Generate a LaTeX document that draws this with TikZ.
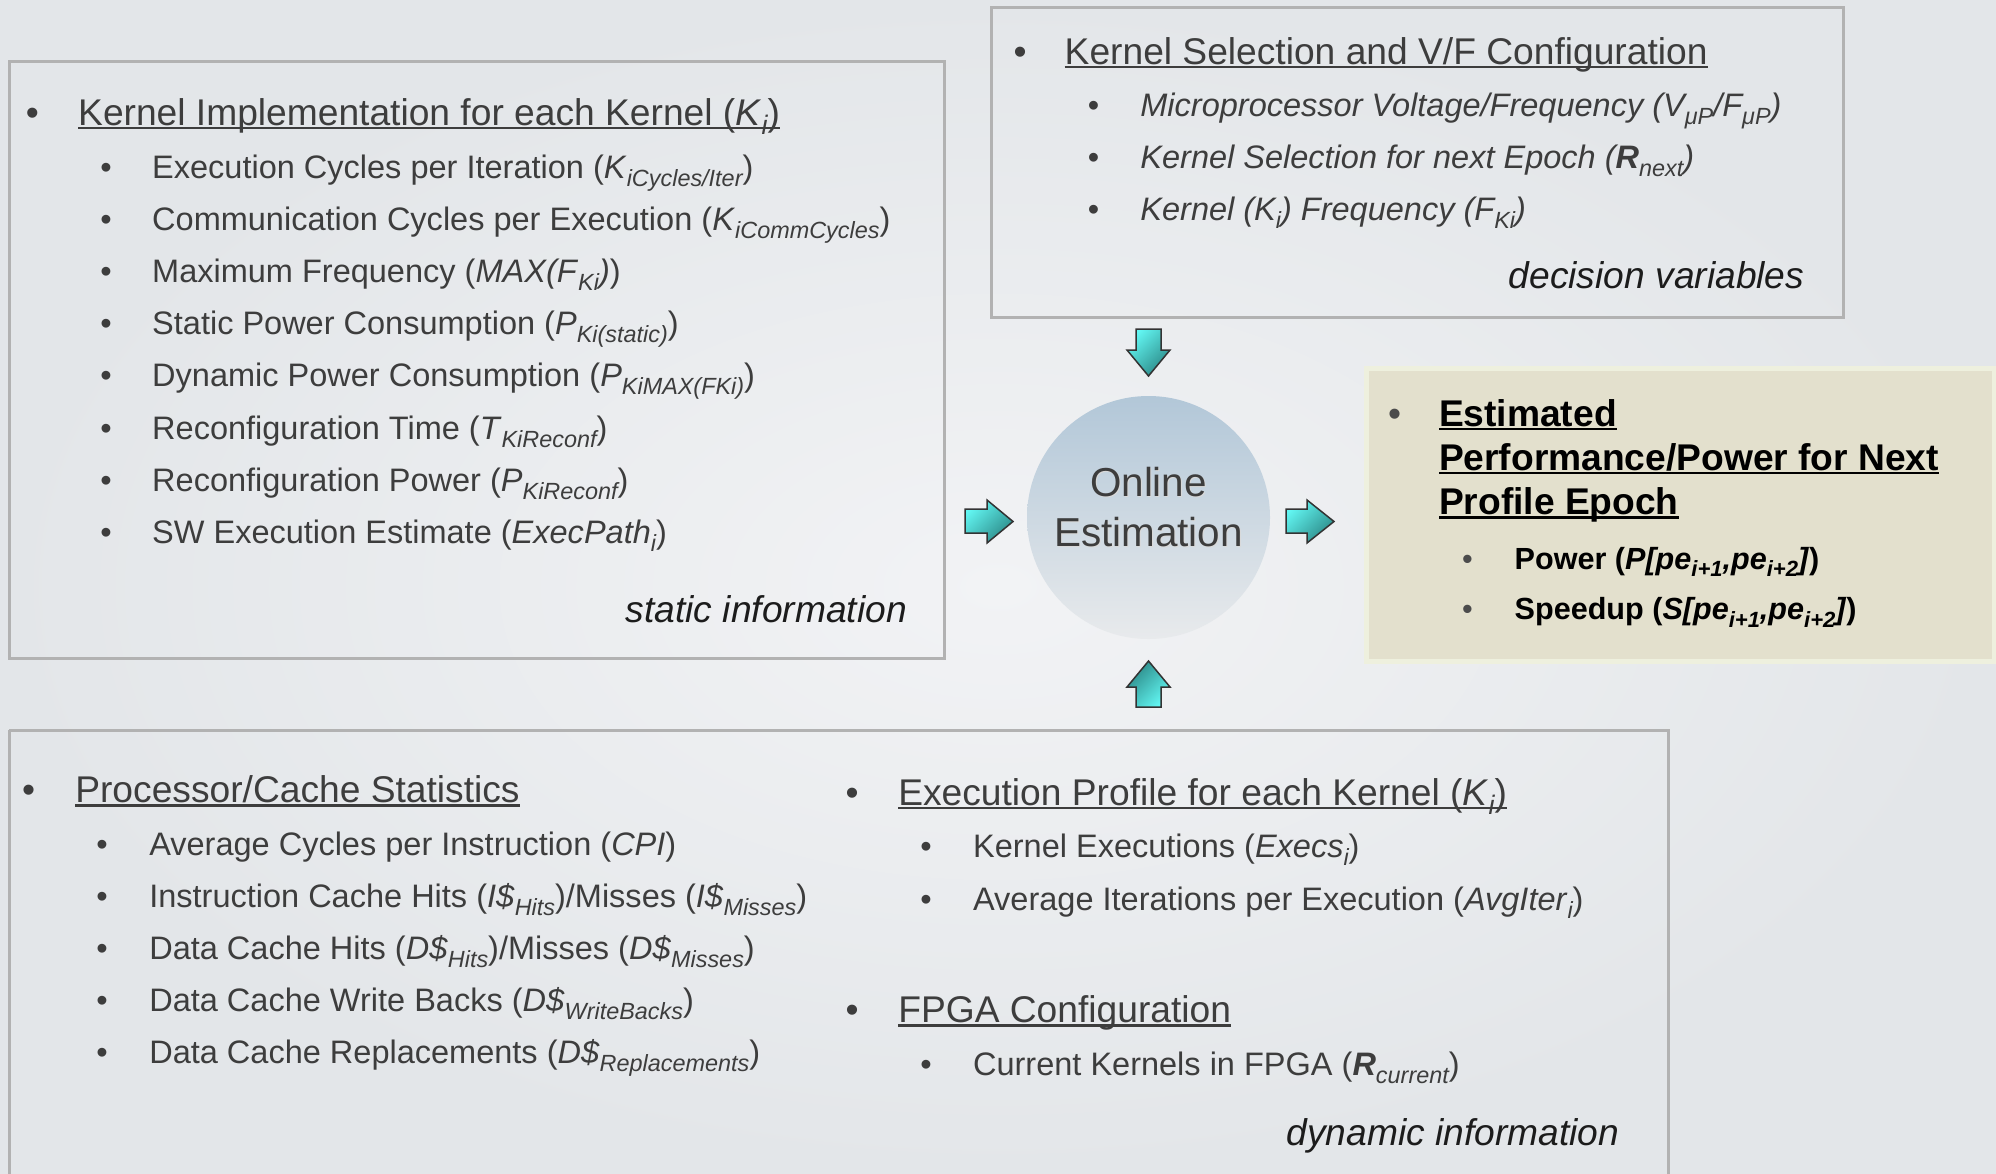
\documentclass[tikz,border=0pt]{standalone}
\usepackage{fontspec}
\setmainfont{Liberation Sans}

\definecolor{bgin}{HTML}{F2F3F5}
\definecolor{bgout}{HTML}{E3E6E9}
\definecolor{frameline}{HTML}{B2B2B2}
\definecolor{txtgray}{HTML}{3D3D3D}
\definecolor{tagblack}{HTML}{1C1C1C}
\definecolor{estfill}{HTML}{E3E0CD}
\definecolor{estglow}{HTML}{EEF0DE}
\definecolor{arrlight}{HTML}{62F7F3}
\definecolor{arrdark}{HTML}{2B8886}
\definecolor{arredge}{HTML}{333333}
\definecolor{circtop}{HTML}{B2C7D8}
\definecolor{circbot}{HTML}{E8EAEC}

% font sizes (1 unit = 0.1 mm)
\newcommand\hdrsize{\fontsize{10.58pt}{12.5pt}\selectfont}
\newcommand\itmsize{\fontsize{9.25pt}{11pt}\selectfont}
\newcommand\estsize{\fontsize{8.7pt}{10.5pt}\selectfont}
\newcommand\circsize{\fontsize{11.5pt}{14pt}\selectfont}

% italic subscript (dropped, about 72% size) and a flat underline that crosses descenders
\makeatletter
\newcommand\sbs[1]{\raisebox{-0.25em}{\fontsize{\fpeval{0.72*\f@size}}{\fpeval{0.8*\f@size}}\selectfont\itshape #1}}
\makeatother
\newsavebox\ulbox
\newcommand\ulin[1]{\sbox\ulbox{#1}\rlap{\rule[-0.11em]{\wd\ulbox}{0.065em}}\usebox\ulbox}

\tikzset{
  frame/.style={draw=frameline, line width=0.3mm},
  hdr/.style={anchor=base west, inner sep=0pt, text=txtgray, font=\hdrsize},
  itm/.style={anchor=base west, inner sep=0pt, text=txtgray, font=\itmsize},
  hbul/.style={anchor=base, inner sep=0pt, text=txtgray, font=\hdrsize},
  ibul/.style={anchor=base, inner sep=0pt, text=txtgray, font=\itmsize},
  tag/.style={anchor=base east, inner sep=0pt, text=tagblack, font=\hdrsize\itshape},
  esthdr/.style={anchor=base west, inner sep=0pt, text=black, font=\hdrsize\bfseries},
  estitm/.style={anchor=base west, inner sep=0pt, text=black, font=\estsize\bfseries},
  blockarrow/.style={draw=arredge, line width=0.15mm, top color=arrlight, bottom color=arrdark},
}

\begin{document}
\begin{tikzpicture}[x=0.1mm, y=-0.1mm]
\useasboundingbox (0,0) rectangle (1996,1173);

% background
\shade[inner color=bgin, outer color=bgout] (0,0) rectangle (1996,1173);

% frames
\draw[frame] (9,61) rectangle (944,658);
\draw[frame] (991,7) rectangle (1843,317);
\draw[frame] (9,730) -- (1668,730) -- (1668,1180);
\draw[frame] (9,730) -- (9,1180);

% estimation result panel
\fill[estglow] (1364,366) rectangle (1996,664);
\fill[estfill] (1369,371) rectangle (1992,659);

% ---- static information panel ----
\node[hbul] (sb0) at (32.5,125) {•};
\node[hdr] (sh0) at (77.5,125) {\ulin{Kernel Implementation for each Kernel (\textit{K}\sbs{i})}};
\node[ibul] (sb1) at (106,178) {•};
\node[itm] (si1) at (151.5,178) {Execution Cycles per Iteration (\textit{K}\sbs{iCycles/Iter})};
\node[ibul] (sb2) at (106,230.2) {•};
\node[itm] (si2) at (151.5,230.2) {Communication Cycles per Execution (\textit{K}\sbs{iCommCycles})};
\node[ibul] (sb3) at (106,282.4) {•};
\node[itm] (si3) at (151.5,282.4) {Maximum Frequency (\textit{MAX(F}\sbs{Ki}\textit{)})};
\node[ibul] (sb4) at (106,334.6) {•};
\node[itm] (si4) at (151.5,334.6) {Static Power Consumption (\textit{P}\sbs{Ki(static)})};
\node[ibul] (sb5) at (106,386.8) {•};
\node[itm] (si5) at (151.5,386.8) {Dynamic Power Consumption (\textit{P}\sbs{KiMAX(FKi)})};
\node[ibul] (sb6) at (106,439) {•};
\node[itm] (si6) at (151.5,439) {Reconfiguration Time (\textit{T}\sbs{KiReconf})};
\node[ibul] (sb7) at (106,491.2) {•};
\node[itm] (si7) at (151.5,491.2) {Reconfiguration Power (\textit{P}\sbs{KiReconf})};
\node[ibul] (sb8) at (106,543.4) {•};
\node[itm] (si8) at (151.5,543.4) {SW Execution Estimate (\textit{ExecPath}\sbs{i})};
\node[tag] (stag) at (907.5,622) {static information};

% ---- decision variables panel ----
\node[hbul] (db0) at (1020,64) {•};
\node[hdr] (dh0) at (1064,64) {\ulin{Kernel Selection and V/F Configuration}};
\node[ibul] (db1) at (1093.6,116.5) {•};
\node[itm, font=\itmsize\itshape] (di1) at (1139.7,116.5) {Microprocessor Voltage/Frequency (V\sbs{μP}/F\sbs{μP})};
\node[ibul] (db2) at (1093.6,168.5) {•};
\node[itm, font=\itmsize\itshape] (di2) at (1139.7,168.5) {Kernel Selection for next Epoch (\textbf{R}\sbs{next})};
\node[ibul] (db3) at (1093.6,220.5) {•};
\node[itm, font=\itmsize\itshape] (di3) at (1139.7,220.5) {Kernel (K\sbs{i}) Frequency (F\sbs{Ki})};
\node[tag] (dtag) at (1805,288) {decision variables};

% ---- estimation result ----
\node[hbul, text=black!70] (eb0) at (1394.5,426) {•};
\node[esthdr] (eh1) at (1438.3,426) {\ulin{Estimated}};
\node[esthdr] (eh2) at (1438.3,470.3) {\ulin{Performance/Power for Next}};
\node[esthdr] (eh3) at (1438.3,514.6) {\ulin{Profile Epoch}};
\node[ibul, text=black!70, font=\estsize] (eb1) at (1467.5,569) {•};
\node[estitm] (ei1) at (1514,569) {Power (\textit{P[pe}\sbs{i+1}\textit{,pe}\sbs{i+2}\textit{]})};
\node[ibul, text=black!70, font=\estsize] (eb2) at (1467.5,619.5) {•};
\node[estitm] (ei2) at (1514,619.5) {Speedup (\textit{S[pe}\sbs{i+1}\textit{,pe}\sbs{i+2}\textit{]})};

% ---- dynamic information panel ----
\node[hbul] (pb0) at (28.7,802.5) {•};
\node[hdr] (ph0) at (74.6,802.5) {\ulin{Processor/Cache Statistics}};
\node[ibul] (pb1) at (102,855) {•};
\node[itm] (pi1) at (148.6,855) {Average Cycles per Instruction (\textit{CPI})};
\node[ibul] (pb2) at (102,907) {•};
\node[itm] (pi2) at (148.6,907) {Instruction Cache Hits (\textit{I\$}\sbs{Hits})/Misses (\textit{I\$}\sbs{Misses})};
\node[ibul] (pb3) at (102,959.3) {•};
\node[itm] (pi3) at (148.6,959.3) {Data Cache Hits (\textit{D\$}\sbs{Hits})/Misses (\textit{D\$}\sbs{Misses})};
\node[ibul] (pb4) at (102,1011.4) {•};
\node[itm] (pi4) at (148.6,1011.4) {Data Cache Write Backs (\textit{D\$}\sbs{WriteBacks})};
\node[ibul] (pb5) at (102,1063.5) {•};
\node[itm] (pi5) at (148.6,1063.5) {Data Cache Replacements (\textit{D\$}\sbs{Replacements})};

\node[hbul] (xb0) at (852,805) {•};
\node[hdr] (xh0) at (897.6,805) {\ulin{Execution Profile for each Kernel (\textit{K}\sbs{i})}};
\node[ibul] (xb1) at (926,857.7) {•};
\node[itm] (xi1) at (972.4,857.7) {Kernel Executions (\textit{Execs}\sbs{i})};
\node[ibul] (xb2) at (926,910) {•};
\node[itm] (xi2) at (972.4,910) {Average Iterations per Execution (\textit{AvgIter}\sbs{i})};
\node[hbul] (fb0) at (852,1022.5) {•};
\node[hdr] (fh0) at (897.6,1022.5) {\ulin{FPGA Configuration}};
\node[ibul] (fb1) at (926,1075.5) {•};
\node[itm] (fi1) at (972.4,1075.5) {Current Kernels in FPGA (\textbf{\textit{R}}\sbs{current})};
\node[tag] (ptag) at (1620,1145.5) {dynamic information};

% ---- online estimation hub ----
\node[circle, inner sep=0pt, minimum size=24.3mm, top color=circtop, bottom color=circbot] (hub) at (1148.5,517.5) {};
\node[anchor=base, inner sep=0pt, text=white!70!gray, font=\circsize] (hubA s) at (1149.5,497) {Online};
\node[anchor=base, inner sep=0pt, text=white!70!gray, font=\circsize] (hubB s) at (1149.5,547.7) {Estimation};
\node[anchor=base, inner sep=0pt, text=txtgray, font=\circsize] (hubA) at (1148.5,496) {Online};
\node[anchor=base, inner sep=0pt, text=txtgray, font=\circsize] (hubB) at (1148.5,546.7) {Estimation};

% ---- block arrows ----
\draw[blockarrow, shading angle=45]
  (1136,329) -- (1161,329) -- (1161,350) -- (1170,350) -- (1148.5,376) -- (1127,350) -- (1136,350) -- cycle;
\draw[blockarrow, shading angle=225]
  (1136,707) -- (1161,707) -- (1161,687) -- (1170,687) -- (1148.5,661) -- (1127,687) -- (1136,687) -- cycle;
\draw[blockarrow, shading angle=45]
  (965,509) -- (987,509) -- (987,500) -- (1013,521.5) -- (987,543) -- (987,533) -- (965,533) -- cycle;
\draw[blockarrow, shading angle=45]
  (1286,509) -- (1307,509) -- (1307,500) -- (1334,521.5) -- (1307,543) -- (1307,533) -- (1286,533) -- cycle;
\end{tikzpicture}
\end{document}
